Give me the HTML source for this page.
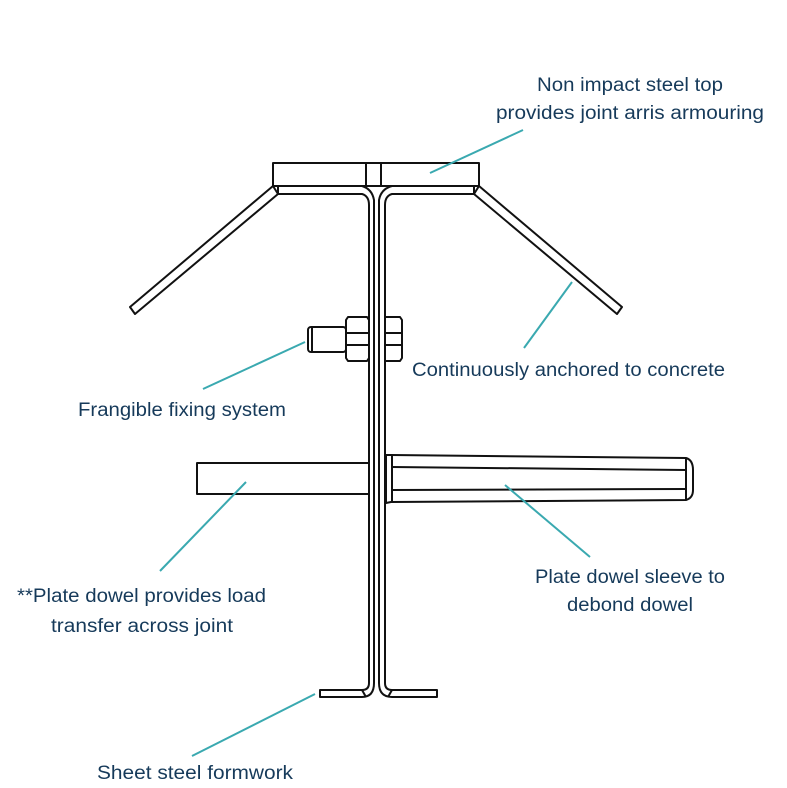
<!DOCTYPE html>
<html><head><style>
html,body{margin:0;padding:0;background:#fff;}
svg{display:block;}
text{font-family:"Liberation Sans",sans-serif;font-size:19px;fill:#163a5a;}
</style></head><body>
<svg width="787" height="788" viewBox="0 0 787 788" xmlns="http://www.w3.org/2000/svg">
<g fill="none" stroke="#111" stroke-width="2" stroke-linejoin="round">
<rect x="273" y="163" width="206" height="23"/>
<line x1="366" y1="163" x2="366" y2="186"/>
<line x1="381" y1="163" x2="381" y2="186"/>
<path d="M278 186 L278 194 L362 194 Q369 196 369 205 L369 683"/>
<path d="M385 683 L385 205 Q385 196 392 194 L474 194 L474 186"/>
<path d="M362 186 Q372 189 374 200 L374 683"/>
<path d="M392 186 Q381 189 379 200 L379 683"/>
<line x1="362" y1="186" x2="392" y2="186"/>
<path d="M273 186 L130 307 L135 314 L278 194"/>
<path d="M479 186 L622 307 L617 314 L474 194"/>
<line x1="273" y1="186" x2="278" y2="194"/>
<line x1="479" y1="186" x2="474" y2="194"/>
<path d="M369 683 Q369 690 362 690 L320 690 L320 697 L362 697 Q374 697 374 683"/>
<path d="M385 683 Q385 690 392 690 L437 690 L437 697 L392 697 Q379 697 379 683"/>
<line x1="362" y1="690" x2="366" y2="697"/>
<line x1="392" y1="690" x2="388" y2="697"/>
<rect x="308" y="327" width="38" height="25" rx="3"/>
<line x1="312" y1="327" x2="312" y2="352"/>
<path d="M348 317 L367 317 L369 320 L369 358 L367 361 L348 361 L346 358 L346 320 Z"/>
<line x1="346" y1="333" x2="369" y2="333"/>
<line x1="346" y1="345" x2="369" y2="345"/>
<path d="M385 317 L400 317 L402 320 L402 358 L400 361 L385 361 Z"/>
<line x1="385" y1="333" x2="402" y2="333"/>
<line x1="385" y1="345" x2="402" y2="345"/>
<path d="M369 463 L197 463 L197 494 L369 494"/>
<path d="M386 455 L391 455 L686 458 Q693 460 693 470 L693 490 Q693 498 686 500 L391 502 L386 503 Z"/>
<line x1="392" y1="455" x2="392" y2="502"/>
<line x1="392" y1="467" x2="686" y2="470"/>
<line x1="392" y1="490" x2="686" y2="489"/>
<line x1="686" y1="458" x2="686" y2="500"/>
</g>
<g stroke="#3aa9b0" stroke-width="2" fill="none">
<line x1="430" y1="173" x2="523" y2="130"/>
<line x1="524" y1="348" x2="572" y2="282"/>
<line x1="203" y1="389" x2="305" y2="342"/>
<line x1="160" y1="571" x2="246" y2="482"/>
<line x1="505" y1="485" x2="590" y2="557"/>
<line x1="192" y1="756" x2="315" y2="694"/>
</g>
<text x="630" y="91" text-anchor="middle" textLength="186" lengthAdjust="spacingAndGlyphs">Non impact steel top</text>
<text x="630" y="119" text-anchor="middle" textLength="268" lengthAdjust="spacingAndGlyphs">provides joint arris armouring</text>
<text x="412" y="376" textLength="313" lengthAdjust="spacingAndGlyphs">Continuously anchored to concrete</text>
<text x="78" y="416" textLength="208" lengthAdjust="spacingAndGlyphs">Frangible fixing system</text>
<text x="17" y="602" textLength="249" lengthAdjust="spacingAndGlyphs">**Plate dowel provides load</text>
<text x="142" y="632" text-anchor="middle" textLength="182" lengthAdjust="spacingAndGlyphs">transfer across joint</text>
<text x="630" y="583" text-anchor="middle" textLength="190" lengthAdjust="spacingAndGlyphs">Plate dowel sleeve to</text>
<text x="630" y="611" text-anchor="middle" textLength="126" lengthAdjust="spacingAndGlyphs">debond dowel</text>
<text x="97" y="779" textLength="196" lengthAdjust="spacingAndGlyphs">Sheet steel formwork</text>
</svg>
</body></html>
